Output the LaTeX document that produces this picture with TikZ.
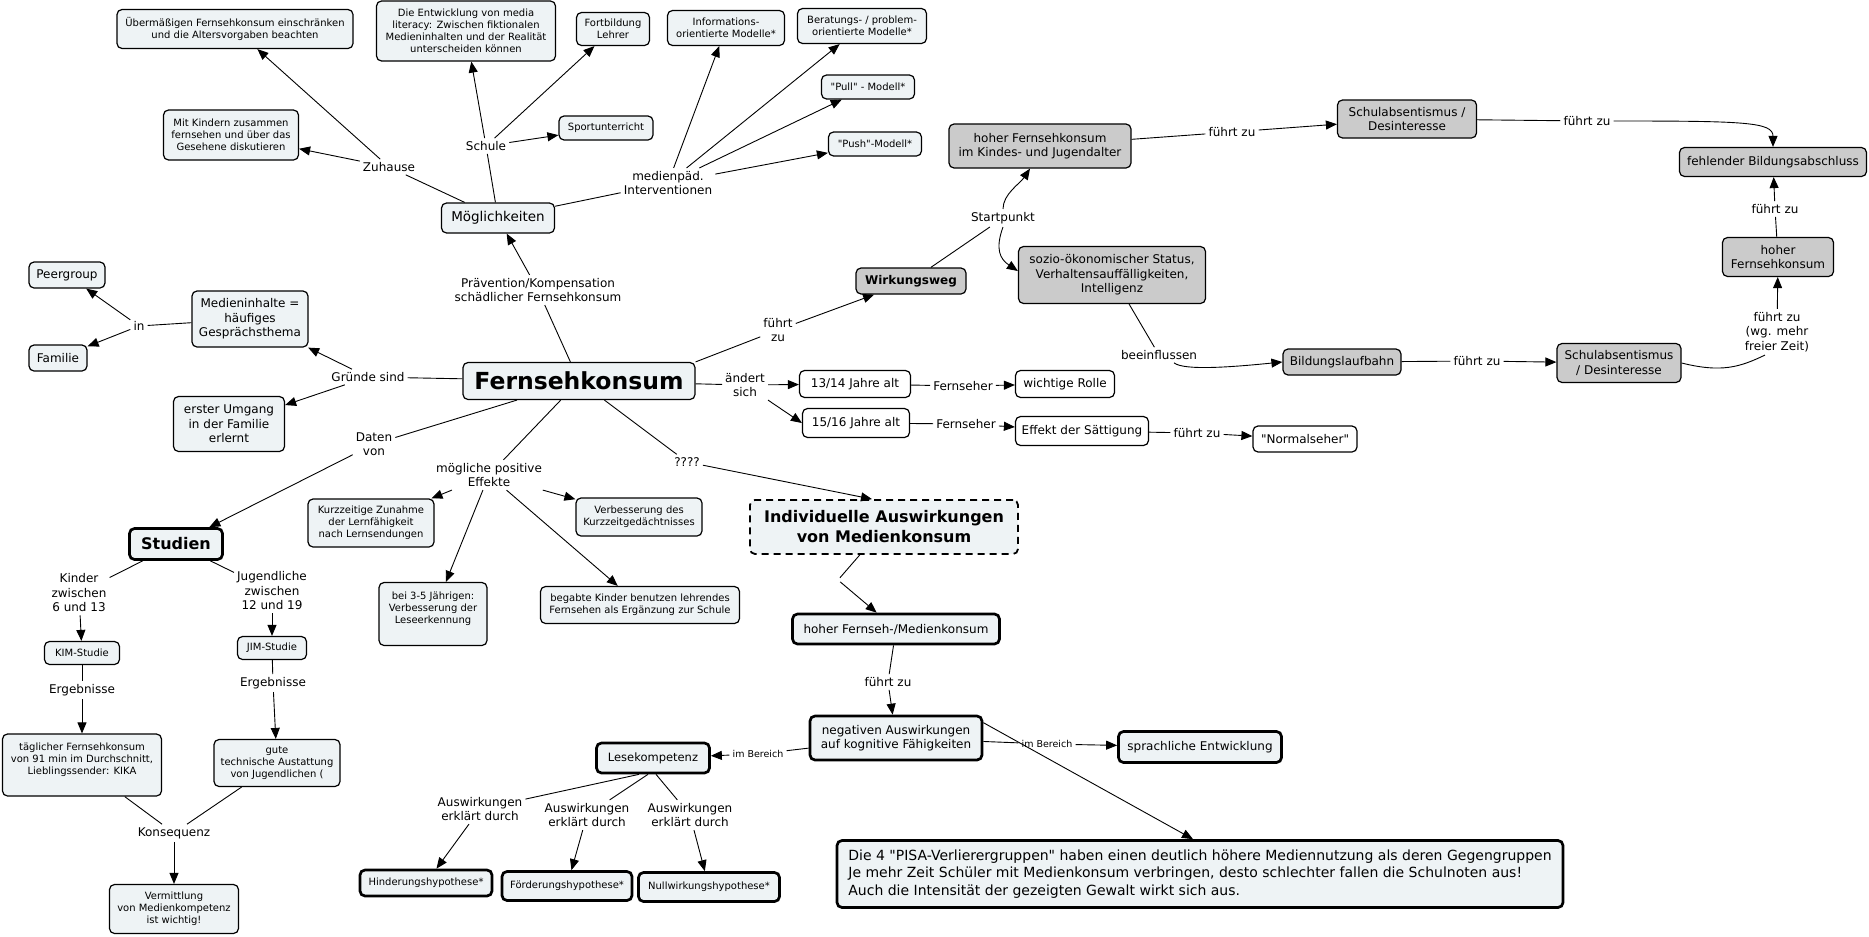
\documentclass[tikz,border=0pt]{standalone}
\usepackage{fontspec}
\setmainfont{DejaVu Sans}[Ligatures=TeXOff]
\usetikzlibrary{arrows.meta}
\definecolor{nfill}{HTML}{EEF3F5}
\definecolor{gfill}{HTML}{CBCBCB}
\tikzset{
  box/.style={draw=black, rounded corners=5pt, fill=nfill, line width=1.2pt, align=center, inner sep=2pt},
  gbox/.style={box, fill=gfill},
  wbox/.style={box, fill=white},
  tbox/.style={box, line width=2.7pt},
  fs/.style={font=\fontsize{10}{12}\selectfont},
  fm/.style={font=\fontsize{12}{14.5}\selectfont},
  lbl/.style={inner sep=3pt, align=center, font=\fontsize{12}{14.5}\selectfont},
  slbl/.style={inner sep=3pt, align=center, font=\fontsize{9.5}{11}\selectfont},
  con/.style={line width=0.9pt},
  arr/.style={line width=0.9pt, -{Triangle[length=11pt,width=9pt]}},
}
\begin{document}
\begin{tikzpicture}[x=1pt,y=-1pt]
\fill[white] (0,0) rectangle (1869,937);
\useasboundingbox (0,0) rectangle (1869,937);

% ---------- top left ----------
\node[box,fs,minimum width=236pt,minimum height=39pt] (uber) at (235,29) {Übermäßigen Fernsehkonsum einschränken\\und die Altersvorgaben beachten};
\node[box,fs,minimum width=179pt,minimum height=60pt] (entw) at (466,31) {Die Entwicklung von media\\literacy: Zwischen fiktionalen\\Medieninhalten und der Realität\\unterscheiden können};
\node[box,fs,minimum width=73pt,minimum height=33pt] (fortb) at (613,29) {Fortbildung\\Lehrer};
\node[box,fs,minimum width=117pt,minimum height=35pt] (info) at (726,28) {Informations-\\orientierte Modelle*};
\node[box,fs,minimum width=129pt,minimum height=35pt] (berat) at (862,26) {Beratungs- / problem-\\orientierte Modelle*};
\node[box,fs,minimum width=93pt,minimum height=24pt] (pull) at (868,87) {"Pull" - Modell*};
\node[box,fs,minimum width=93pt,minimum height=24pt] (push) at (875,144) {"Push"-Modell*};
\node[box,fs,minimum width=135pt,minimum height=50pt] (mitk) at (231,135) {Mit Kindern zusammen\\fernsehen und über das\\Gesehene diskutieren};
\node[box,fs,minimum width=94pt,minimum height=24pt] (sport) at (606,128) {Sportunterricht};
\node[box,font=\fontsize{13.5}{16}\selectfont,minimum width=113pt,minimum height=30pt] (moegl) at (498,218) {Möglichkeiten};

\node[lbl] (zuh) at (389,167) {Zuhause};
\node[lbl] (sch) at (486,146) {Schule};
\node[lbl] (medp) at (668,183) {medienpäd.\\Interventionen};
\node[lbl] (prae) at (538,290) {Prävention/Kompensation\\schädlicher Fernsehkonsum};

% ---------- left ----------
\node[box,fm,minimum width=76pt,minimum height=26pt] (peer) at (67,275) {Peergroup};
\node[box,fm,minimum width=58pt,minimum height=26pt] (fam) at (58,358) {Familie};
\node[box,fm,minimum width=116pt,minimum height=56pt] (medi) at (250,319) {Medieninhalte =\\häufiges\\Gesprächsthema};
\node[box,fm,minimum width=111pt,minimum height=55pt] (erst) at (229,424) {erster Umgang\\in der Familie\\erlernt};
\node[lbl] (inl) at (139,326) {in};
\node[lbl] (gruende) at (368,377) {Gründe sind};

% ---------- centre ----------
\node[box,font=\fontsize{23.5}{27}\selectfont\bfseries,minimum width=232pt,minimum height=37pt] (fk) at (579,381) {Fernsehkonsum};
\node[lbl] (fz1) at (778,330) {führt\\zu};
\node[lbl] (daten) at (374,444) {Daten\\von};
\node[lbl] (moeg) at (489,475) {mögliche positive\\Effekte};
\node[lbl] (quest) at (687,462) {????};
\node[lbl] (aend) at (745,385) {ändert\\sich};

% ---------- Wirkungsweg (gray) ----------
\node[gbox,font=\fontsize{12}{14.5}\selectfont\bfseries,minimum width=110pt,minimum height=26pt] (wirk) at (911,281) {Wirkungsweg};
\node[gbox,fm,minimum width=182pt,minimum height=44pt] (hoch1) at (1040,146) {hoher Fernsehkonsum\\im Kindes- und Jugendalter};
\node[gbox,fm,minimum width=187pt,minimum height=57pt] (sozio) at (1112,275) {sozio-ökonomischer Status,\\Verhaltensauffälligkeiten,\\Intelligenz};
\node[gbox,fm,minimum width=139pt,minimum height=38pt] (schul1) at (1407,119) {Schulabsentismus /\\Desinteresse};
\node[gbox,fm,minimum width=187pt,minimum height=29pt] (fehl) at (1773,162) {fehlender Bildungsabschluss};
\node[gbox,fm,minimum width=111pt,minimum height=39pt] (hoch2) at (1778,257) {hoher\\Fernsehkonsum};
\node[gbox,fm,minimum width=124pt,minimum height=39pt] (schul2) at (1619,363) {Schulabsentismus\\/ Desinteresse};
\node[gbox,fm,minimum width=118pt,minimum height=26pt] (bild) at (1342,362) {Bildungslaufbahn};
\node[lbl] (start) at (1003,218) {Startpunkt};
\node[lbl] (fz2) at (1232,132) {führt zu};
\node[lbl] (fz3) at (1587,121) {führt zu};
\node[lbl] (fz4) at (1775,209) {führt zu};
\node[lbl] (fz5) at (1777,332) {führt zu\\(wg. mehr\\freier Zeit)};
\node[lbl] (fz6) at (1477,361) {führt zu};
\node[lbl] (beein) at (1159,355) {beeinflussen};

% ---------- age nodes (white) ----------
\node[wbox,fm,minimum width=111pt,minimum height=27pt] (j13) at (855,384) {13/14 Jahre alt};
\node[wbox,fm,minimum width=99pt,minimum height=27pt] (wicht) at (1065,384) {wichtige Rolle};
\node[wbox,fm,minimum width=107pt,minimum height=29pt] (j15) at (856,423) {15/16 Jahre alt};
\node[wbox,fm,minimum width=133pt,minimum height=29pt] (eff) at (1082,431) {Effekt der Sättigung};
\node[wbox,fm,minimum width=104pt,minimum height=26pt] (norm) at (1305,439) {"Normalseher"};
\node[lbl] (fern1) at (963,386) {Fernseher};
\node[lbl] (fern2) at (966,424) {Fernseher};
\node[lbl] (fz7) at (1197,433) {führt zu};

% ---------- positive effects ----------
\node[box,fs,minimum width=126pt,minimum height=48pt] (kurz) at (371,523) {Kurzzeitige Zunahme\\der Lernfähigkeit\\nach Lernsendungen};
\node[box,fs,minimum width=126pt,minimum height=38pt] (verb) at (639,517) {Verbesserung des\\Kurzzeitgedächtnisses};
\node[box,fs,minimum width=108pt,minimum height=63pt] (bei35) at (433,614) {bei 3-5 Jährigen:\\Verbesserung der\\Leseerkennung\\~};
\node[box,fs,minimum width=199pt,minimum height=37pt] (begabt) at (640,605) {begabte Kinder benutzen lehrendes\\Fernsehen als Ergänzung zur Schule};

% ---------- individual effects ----------
\node[box,dashed,dash pattern=on 7pt off 5pt,line width=1.8pt,font=\fontsize{16}{20}\selectfont\bfseries,minimum width=268pt,minimum height=54pt] (indiv) at (884,527) {Individuelle Auswirkungen\\von Medienkonsum};
\node[inner sep=2pt] (blank) at (838,580) {};
\node[tbox,fm,minimum width=207pt,minimum height=30pt] (hfm) at (896,629) {hoher Fernseh-/Medienkonsum};
\node[lbl] (fz8) at (888,682) {führt zu};
\node[tbox,fm,minimum width=172pt,minimum height=44pt] (neg) at (896,738) {negativen Auswirkungen\\auf kognitive Fähigkeiten};
\node[tbox,font=\fontsize{11.5}{14}\selectfont,minimum width=113pt,minimum height=30pt] (lese) at (653,758) {Lesekompetenz};
\node[tbox,fm,minimum width=163pt,minimum height=31pt] (sprach) at (1200,747) {sprachliche Entwicklung};
\node[slbl] (imb1) at (758,754) {im Bereich};
\node[slbl] (imb2) at (1047,744) {im Bereich};
\node[lbl] (aus1) at (480,809) {Auswirkungen\\erklärt durch};
\node[lbl] (aus2) at (587,815) {Auswirkungen\\erklärt durch};
\node[lbl] (aus3) at (690,815) {Auswirkungen\\erklärt durch};
\node[tbox,fs,minimum width=132pt,minimum height=26pt] (hind) at (426,883) {Hinderungshypothese*};
\node[tbox,fs,minimum width=130pt,minimum height=29pt] (foerd) at (567,886) {Förderungshypothese*};
\node[tbox,fs,minimum width=141pt,minimum height=29pt] (nullw) at (709,887) {Nullwirkungshypothese*};
\node[tbox,align=left,font=\fontsize{14}{17.5}\selectfont,minimum width=726pt,minimum height=67pt] (pisa) at (1200,874) {Die 4 "PISA-Verlierergruppen" haben einen deutlich höhere Mediennutzung als deren Gegengruppen\\Je mehr Zeit Schüler mit Medienkonsum verbringen, desto schlechter fallen die Schulnoten aus!\\Auch die Intensität der gezeigten Gewalt wirkt sich aus.};

% ---------- studies ----------
\node[tbox,font=\fontsize{16}{18}\selectfont\bfseries,minimum width=93pt,minimum height=31pt] (stud) at (176,544) {Studien};
\node[lbl] (kinder) at (79,593) {Kinder\\zwischen\\6 und 13};
\node[lbl] (jugend) at (272,591) {Jugendliche\\zwischen\\12 und 19};
\node[box,fs,minimum width=75pt,minimum height=23pt] (kim) at (82,653) {KIM-Studie};
\node[box,fs,minimum width=69pt,minimum height=23pt] (jim) at (272,648) {JIM-Studie};
\node[lbl] (erg1) at (82,690) {Ergebnisse};
\node[lbl] (erg2) at (273,683) {Ergebnisse};
\node[box,fs,minimum width=159pt,minimum height=62pt] (tagl) at (82,765) {täglicher Fernsehkonsum\\von 91 min im Durchschnitt,\\Lieblingssender: KIKA\\~};
\node[box,fs,minimum width=126pt,minimum height=47pt] (gute) at (277,763) {gute\\technische Austattung\\von Jugendlichen (};
\node[lbl] (kons) at (174,833) {Konsequenz};
\node[box,fs,minimum width=129pt,minimum height=49pt] (verm) at (174,909) {Vermittlung\\von Medienkompetenz\\ist wichtig!};

% ================= connectors =================
% Möglichkeiten branch
\draw[con] (moegl) -- (zuh);
\draw[arr] (zuh) -- (mitk);
\draw[arr] (zuh) -- (uber);
\draw[con] (moegl) -- (sch);
\draw[arr] (sch) -- (entw);
\draw[arr] (sch) -- (fortb);
\draw[arr] (sch) -- (sport);
\draw[con] (moegl) -- (medp);
\draw[arr] (medp) -- (info);
\draw[arr] (medp) -- (berat);
\draw[arr] (medp) -- (pull);
\draw[arr] (medp) -- (push);
\draw[con] (fk) -- (prae);
\draw[arr] (prae) -- (moegl);

% reasons
\draw[con] (fk) -- (gruende);
\draw[arr] (gruende) -- (medi);
\draw[arr] (gruende) -- (erst);
\draw[con] (medi) -- (inl);
\draw[arr] (inl) -- (peer);
\draw[arr] (inl) -- (fam);

% Wirkungsweg
\draw[con] (fk.north east) -- (fz1);
\draw[arr] (fz1) -- (wirk);
\draw[con] (wirk) -- (start);
\draw[arr] (start.north) .. controls +(0,-15) and +(-10,15) .. ([xshift=-10pt]hoch1.south);
\draw[arr] (start.south) .. controls +(-8,22) and +(-18,-12) .. ([yshift=4pt]sozio.west);
\draw[con] (hoch1) -- (fz2);
\draw[arr] (fz2) -- (schul1);
\draw[con] (schul1) -- (fz3);
\draw[arr] (fz3.east) .. controls +(130,0) and +(0,-25) .. (fehl.north);
\draw[con] (sozio) -- (beein);
\draw[arr] ([xshift=15pt]beein.south) .. controls +(10,8) and +(-50,5) .. (bild.west);
\draw[con] (bild) -- (fz6);
\draw[arr] (fz6) -- (schul2);
\draw[con] (schul2.east) .. controls +(40,10) and +(-25,12) .. ([xshift=-12pt]fz5.south);
\draw[arr] (fz5) -- (hoch2);
\draw[con] (hoch2) -- (fz4);
\draw[arr] (fz4) -- (fehl);

% age
\draw[con] (fk) -- (aend);
\draw[arr] (aend) -- (j13);
\draw[arr] (aend.south east) -- (j15.west);
\draw[con] (j13) -- (fern1);
\draw[arr] (fern1) -- (wicht);
\draw[con] (j15) -- (fern2);
\draw[arr] (fern2) -- (eff);
\draw[con] (eff) -- (fz7);
\draw[arr] (fz7) -- (norm);

% positive effects
\draw[con] (fk) -- (moeg);
\draw[arr] (moeg) -- (kurz);
\draw[arr] (moeg) -- (verb);
\draw[arr] (moeg) -- (bei35);
\draw[arr] (moeg) -- (begabt);

% individual effects
\draw[con] (fk) -- (quest);
\draw[arr] (quest) -- ([xshift=-12pt]indiv.north);
\draw[con] (indiv) -- (blank);
\draw[arr] (blank) -- (hfm);
\draw[con] (hfm) -- (fz8);
\draw[arr] (fz8) -- (neg);
\draw[con] (neg) -- (imb1);
\draw[arr] (imb1) -- (lese);
\draw[con] (neg) -- (imb2);
\draw[arr] (imb2) -- (sprach);
\draw[arr] ([yshift=-8pt]neg.north east) -- ([xshift=-7pt]pisa.north);
\draw[con] ([xshift=-14pt]lese.south) -- (aus1);
\draw[con] ([xshift=-5pt]lese.south) -- (aus2);
\draw[con] ([xshift=3pt]lese.south) -- (aus3);
\draw[arr] (aus1) -- (hind);
\draw[arr] (aus2) -- (foerd);
\draw[arr] (aus3) -- (nullw);

% studies
\draw[con] (fk) -- (daten);
\draw[arr] (daten) -- (stud);
\draw[con] (stud) -- (kinder);
\draw[con] (stud) -- (jugend);
\draw[arr] (kinder) -- (kim);
\draw[arr] (jugend) -- (jim);
\draw[con] (kim) -- (erg1);
\draw[arr] (erg1) -- (tagl);
\draw[con] (jim) -- (erg2);
\draw[arr] (erg2) -- (gute);
\draw[con] (tagl) -- (kons);
\draw[con] (gute) -- (kons);
\draw[arr] (kons) -- (verm);
\end{tikzpicture}
\end{document}
